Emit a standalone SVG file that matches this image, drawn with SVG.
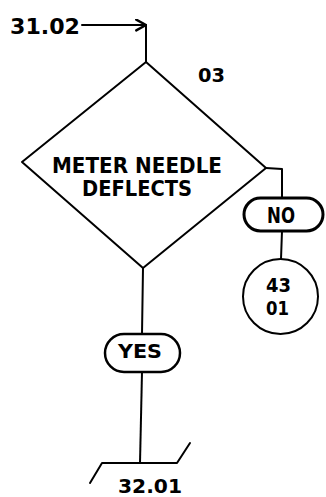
<svg xmlns="http://www.w3.org/2000/svg" width="326" height="497" viewBox="0 0 326 497">
<defs>
<style>
.ln{fill:none;stroke:#000;stroke-width:2;stroke-linecap:round;stroke-linejoin:round}
.tk{fill:none;stroke:#000;stroke-width:3}
.t{font-family:"DejaVu Sans","Liberation Sans",Arial,sans-serif;font-weight:bold;fill:#000}
</style>
<marker id="ah" viewBox="0 0 12 12" refX="11" refY="6" markerWidth="13" markerHeight="13" markerUnits="userSpaceOnUse" orient="auto">
<path d="M2,1 L11,6 L2,11" fill="none" stroke="#000" stroke-width="2.2" stroke-linecap="round" stroke-linejoin="round"/>
</marker>
</defs>
<rect width="326" height="497" fill="#fff"/>
<g id="connectors">
<line class="ln" x1="82" y1="25" x2="146" y2="25" marker-end="url(#ah)"/>
<line class="ln" x1="146" y1="25" x2="146" y2="62"/>
<polyline class="ln" points="266,168 282,169 282,198"/>
<line class="ln" x1="282" y1="231" x2="281" y2="259"/>
<line class="ln" x1="143" y1="268" x2="142" y2="334"/>
<line class="ln" x1="142" y1="372" x2="140" y2="463"/>
</g>
<g id="entry">
<text class="t" x="10" y="34" font-size="21" textLength="70" lengthAdjust="spacingAndGlyphs">31.02</text>
</g>
<g id="decision03">
<polygon class="ln" points="146,62 266,168 143,268 22,162"/>
<text class="t" x="198" y="82" font-size="19" textLength="27" lengthAdjust="spacingAndGlyphs">03</text>
<text class="t" x="52" y="173" font-size="21" textLength="170" lengthAdjust="spacingAndGlyphs">METER NEEDLE</text>
<text class="t" x="82" y="196" font-size="21" textLength="110" lengthAdjust="spacingAndGlyphs">DEFLECTS</text>
</g>
<g id="no">
<rect class="tk" x="244" y="198" width="79" height="33" rx="16.5"/>
<text class="t" x="267" y="223" font-size="21" textLength="28" lengthAdjust="spacingAndGlyphs">NO</text>
</g>
<g id="conn4301">
<circle class="ln" cx="280.5" cy="296.5" r="37.5"/>
<text class="t" x="266" y="292" font-size="20" textLength="25" lengthAdjust="spacingAndGlyphs">43</text>
<text class="t" x="266" y="315" font-size="20" textLength="23" lengthAdjust="spacingAndGlyphs">01</text>
</g>
<g id="yes">
<rect class="ln" x="105" y="334" width="75" height="38" rx="19" style="stroke-width:2.5"/>
<text class="t" x="118" y="358" font-size="20" textLength="44" lengthAdjust="spacingAndGlyphs">YES</text>
</g>
<g id="offpage3201">
<polyline class="ln" points="90,483 102,463 177,463 190,443"/>
<text class="t" x="118" y="493" font-size="20" textLength="64" lengthAdjust="spacingAndGlyphs">32.01</text>
</g>
</svg>
